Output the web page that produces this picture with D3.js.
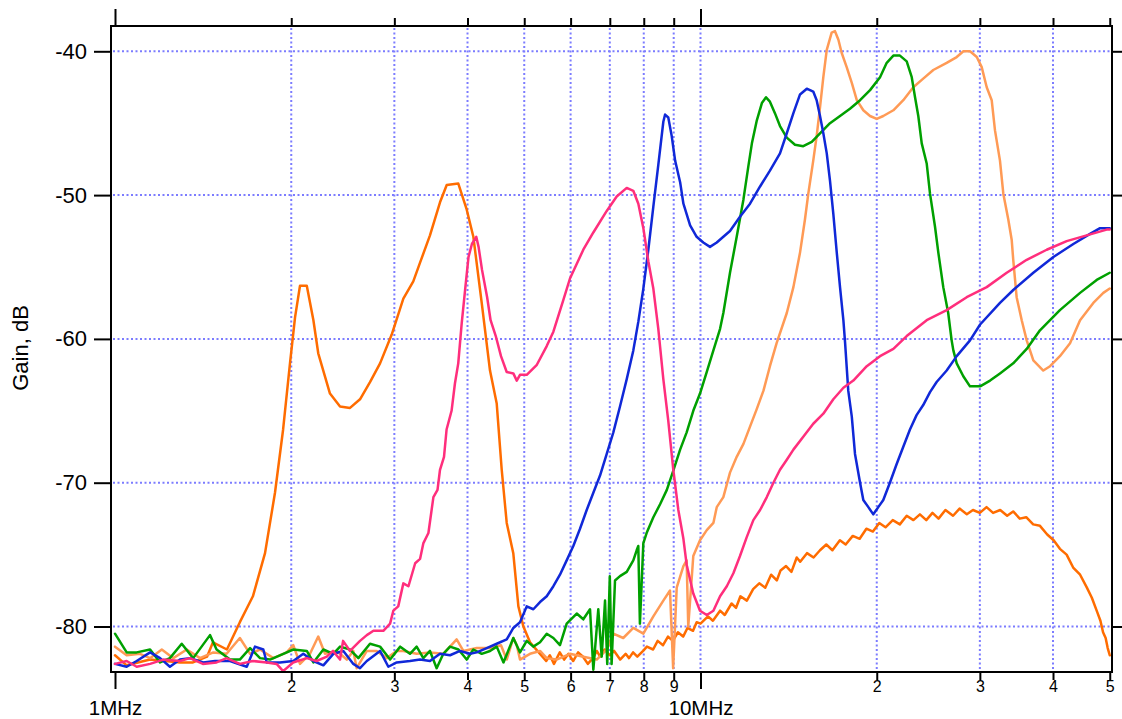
<!DOCTYPE html>
<html>
<head>
<meta charset="utf-8">
<script src="https://cdn.jsdelivr.net/npm/d3@7"></script>
<style>
  body { margin: 0; background: #fff; }
  svg { display: block; }
  text { font-family: "Liberation Sans", Arial, Helvetica, sans-serif; fill: #000; }
</style>
</head>
<body>
<svg id="chart" width="1122" height="719"></svg>
<script>
// Axis tick values (frequency in MHz, gain in dB)
const minorFreqs = [2, 3, 4, 5, 6, 7, 8, 9, 20, 30, 40, 50];
const minorLabels = ["2", "3", "4", "5", "6", "7", "8", "9", "2", "3", "4", "5"];
const majorFreqs = [1, 10];
const majorLabels = ["1MHz", "10MHz"];
const gridFreqs = [2, 3, 4, 5, 6, 7, 8, 9, 10, 20, 30, 40];
const gainTicks = [-40, -50, -60, -70, -80];

// Measured gain curves: [frequency MHz, gain dB]
const orangeTrace = [
  [1.00,-82.0],[1.047,-82.7],[1.148,-82.3],[1.291,-82.5],[1.359,-82.5],[1.436,-82.1],[1.47,-81.1],
  [1.553,-81.6],[1.591,-80.7],[1.634,-79.7],[1.72,-77.9],[1.804,-74.9],[1.876,-70.7],[1.937,-66.3],
  [1.99,-61.7],[2.03,-58.5],[2.07,-56.3],[2.126,-56.3],[2.182,-58.7],[2.224,-61.0],[2.329,-63.8],
  [2.423,-64.7],[2.52,-64.8],[2.621,-64.2],[2.726,-63.0],[2.836,-61.7],[2.969,-59.7],[3.108,-57.2],
  [3.232,-56.0],[3.319,-54.7],[3.451,-52.8],[3.59,-50.5],[3.686,-49.3],[3.858,-49.2],[3.987,-51.0],
  [4.093,-52.9],[4.23,-57.5],[4.37,-62.2],[4.487,-64.5],[4.576,-69.1],[4.667,-72.8],[4.789,-74.9],
  [4.886,-78.6],[4.983,-80.0],[5.115,-81.1],[5.32,-81.9],[5.45,-82.4],[5.53,-82.0],[5.62,-82.6],
  [5.75,-81.8],[5.85,-82.3],[5.95,-81.9],[6.06,-82.4],[6.18,-81.8],[6.3,-82.1],[6.42,-82.6],
  [6.55,-82.2],[6.65,-81.7],[6.74,-82.1],[6.86,-81.6],[7.0,-82.0],[7.12,-81.7],[7.29,-82.3],
  [7.45,-81.9],[7.55,-82.2],[7.67,-81.8],[7.8,-82.1],[7.98,-81.7],[8.1,-81.4],[8.3,-81.6],
  [8.45,-81.0],[8.63,-81.3],[8.8,-80.7],[8.97,-81.0],[9.15,-80.4],[9.34,-80.7],[9.5,-80.1],
  [9.71,-80.3],[9.85,-79.7],[10.0,-79.8],[10.3,-79.3],[10.5,-79.6],[10.8,-78.9],[11.0,-79.2],
  [11.3,-78.4],[11.5,-78.7],[11.7,-77.9],[12.0,-78.2],[12.3,-77.4],[12.6,-77.0],[12.9,-77.3],
  [13.2,-76.4],[13.5,-76.8],[13.7,-76.1],[14.0,-75.8],[14.3,-76.2],[14.6,-75.2],[14.8,-75.5],
  [15.2,-74.9],[15.6,-75.2],[16.0,-74.7],[16.4,-74.3],[16.8,-74.7],[17.3,-74.0],[17.7,-74.3],
  [18.2,-73.7],[18.7,-73.9],[19.2,-73.2],[19.7,-73.4],[20.2,-72.8],[20.7,-73.1],[21.3,-72.6],
  [21.9,-72.9],[22.5,-72.3],[23.1,-72.6],[23.7,-72.2],[24.3,-72.6],[24.9,-72.1],[25.5,-72.5],
  [26.2,-71.9],[27.0,-72.3],[27.7,-71.8],[28.5,-72.2],[29.2,-71.9],[30.0,-72.1],[30.8,-71.7],
  [31.6,-72.1],[32.5,-71.9],[33.4,-72.3],[34.2,-72.0],[35.1,-72.5],[36.0,-72.4],[37.0,-72.9],
  [38.0,-73.0],[39.1,-73.6],[40.1,-74.0],[41.1,-74.6],[42.2,-75.0],[43.3,-75.9],[44.5,-76.4],
  [45.7,-77.3],[46.6,-78.0],[47.6,-79.0],[48.2,-79.6],[48.7,-80.4],[49.2,-80.8],[49.6,-81.5],
  [50.0,-82.0]
];

const salmonTrace = [
  [1.00,-81.4],[1.047,-82.0],[1.103,-81.9],[1.148,-82.2],[1.202,-81.6],[1.258,-82.2],[1.326,-81.6],
  [1.397,-82.2],[1.472,-81.8],[1.551,-81.9],[1.634,-80.8],[1.701,-81.9],[1.769,-81.6],[1.864,-82.2],
  [1.964,-81.8],[2.016,-81.3],[2.07,-82.6],[2.153,-81.9],[2.224,-80.7],[2.284,-81.9],[2.391,-81.7],
  [2.488,-82.3],[2.553,-81.7],[2.587,-82.9],[2.692,-81.7],[2.799,-81.7],[2.911,-82.2],[3.028,-81.7],
  [3.108,-81.7],[3.275,-81.9],[3.451,-81.8],[3.637,-81.9],[3.833,-80.9],[3.935,-81.7],[4.148,-81.5],
  [4.37,-81.5],[4.563,-81.3],[4.667,-82.3],[4.79,-80.8],[4.855,-81.3],[4.917,-82.3],[5.115,-81.9],
  [5.32,-81.7],[5.462,-82.2],[5.68,-82.3],[5.985,-81.9],[6.307,-82.1],[6.65,-82.3],[6.916,-81.6],
  [7.098,-80.5],[7.38,-80.8],[7.678,-80.1],[7.987,-80.5],[8.307,-79.3],[8.64,-78.2],[8.87,-77.5],
  [8.98,-82.9],[9.107,-77.3],[9.35,-75.8],[9.47,-75.4],[9.53,-80.0],[9.72,-75.1],[9.98,-74.0],
  [10.25,-73.3],[10.52,-72.8],[10.66,-71.7],[10.94,-71.0],[11.23,-69.3],[11.53,-68.2],[11.84,-67.3],
  [12.15,-66.1],[12.47,-64.9],[12.81,-63.6],[13.14,-61.9],[13.49,-60.3],[14.04,-58.2],[14.41,-56.4],
  [14.79,-54.0],[15.08,-51.7],[15.28,-49.9],[15.58,-47.6],[15.79,-45.9],[16.0,-43.9],[16.21,-41.8],
  [16.43,-39.9],[16.75,-38.7],[16.97,-38.6],[17.2,-39.2],[17.42,-40.1],[17.77,-41.1],[18.13,-42.2],
  [18.49,-43.4],[18.97,-44.1],[19.48,-44.5],[20.0,-44.7],[20.52,-44.5],[21.35,-44.1],[22.2,-43.4],
  [23.09,-42.5],[24.01,-41.9],[24.98,-41.3],[26.33,-40.8],[27.39,-40.4],[28.12,-40.0],[28.86,-40.0],
  [29.64,-40.4],[30.22,-41.1],[30.82,-42.5],[31.43,-43.4],[31.84,-45.5],[32.47,-47.6],[32.9,-49.9],
  [33.55,-51.7],[34.0,-53.1],[34.21,-54.5],[34.67,-57.1],[35.37,-58.7],[36.07,-60.1],[37.02,-61.5],
  [38.5,-62.2],[39.54,-61.9],[41.1,-61.2],[42.77,-60.3],[44.49,-58.7],[46.87,-57.5],[48.75,-56.8],
  [50.0,-56.5]
];

const greenTrace = [
  [1.00,-80.5],[1.047,-81.8],[1.089,-81.8],[1.148,-81.6],[1.194,-82.5],[1.241,-82.2],[1.30,-81.2],
  [1.36,-82.2],[1.453,-80.6],[1.491,-81.6],[1.572,-82.3],[1.634,-82.3],[1.701,-81.5],[1.769,-82.2],
  [1.84,-82.3],[1.939,-81.9],[2.016,-81.6],[2.126,-81.7],[2.182,-82.5],[2.269,-81.6],[2.36,-81.9],
  [2.423,-81.4],[2.52,-81.6],[2.604,-82.2],[2.726,-81.2],[2.836,-81.4],[2.95,-82.3],[3.07,-81.4],
  [3.19,-81.9],[3.275,-81.4],[3.362,-82.2],[3.451,-81.7],[3.543,-82.9],[3.637,-81.9],[3.734,-81.4],
  [3.86,-81.6],[3.987,-82.3],[4.093,-81.6],[4.23,-81.9],[4.37,-81.7],[4.487,-81.4],[4.608,-82.5],
  [4.79,-80.8],[4.917,-81.8],[5.049,-81.0],[5.182,-81.4],[5.32,-81.1],[5.462,-80.5],[5.607,-80.8],
  [5.754,-81.3],[5.908,-79.8],[6.146,-79.1],[6.307,-79.5],[6.476,-78.8],[6.561,-83.0],[6.69,-78.8],
  [6.78,-82.1],[6.87,-78.2],[6.93,-82.6],[7.0,-76.5],[7.05,-82.6],[7.145,-76.8],[7.286,-76.5],
  [7.482,-76.2],[7.678,-75.4],[7.78,-74.7],[7.83,-74.4],[7.88,-79.8],[7.987,-74.2],[8.09,-73.5],
  [8.307,-72.4],[8.53,-71.5],[8.76,-70.5],[8.98,-69.2],[9.23,-67.7],[9.47,-66.5],[9.72,-65.0],
  [9.98,-63.8],[10.25,-62.3],[10.52,-60.8],[10.8,-59.3],[10.94,-58.2],[11.23,-55.4],[11.53,-52.9],
  [11.84,-50.3],[12.07,-48.0],[12.24,-46.4],[12.48,-44.8],[12.73,-43.6],[12.94,-43.2],[13.14,-43.5],
  [13.4,-44.3],[13.67,-45.2],[14.04,-46.0],[14.5,-46.5],[14.98,-46.6],[15.49,-46.3],[16.0,-45.7],
  [16.64,-45.0],[17.31,-44.5],[18.0,-44.0],[18.73,-43.4],[19.48,-42.7],[20.26,-41.8],[20.8,-40.8],
  [21.35,-40.3],[21.91,-40.3],[22.5,-40.7],[22.95,-41.8],[23.25,-43.2],[23.55,-44.5],[23.87,-46.4],
  [24.34,-47.8],[24.66,-49.9],[25.15,-52.2],[25.48,-54.0],[25.98,-56.4],[26.49,-58.2],[26.85,-60.1],
  [27.03,-60.8],[27.39,-61.7],[28.11,-62.6],[28.86,-63.3],[30.03,-63.3],[31.23,-62.9],[32.47,-62.4],
  [34.21,-61.7],[36.07,-60.7],[38.0,-59.4],[41.1,-58.0],[44.49,-56.8],[47.5,-55.9],[50.0,-55.4]
];

const blueTrace = [
  [1.00,-82.6],[1.047,-82.8],[1.089,-82.4],[1.148,-81.8],[1.194,-82.2],[1.241,-82.8],[1.291,-82.3],
  [1.343,-82.2],[1.415,-82.5],[1.482,-82.4],[1.572,-82.4],[1.679,-82.8],[1.734,-81.4],[1.792,-81.6],
  [1.816,-82.5],[1.913,-82.5],[2.016,-82.4],[2.097,-81.9],[2.182,-82.4],[2.269,-82.7],[2.36,-81.9],
  [2.455,-81.7],[2.553,-82.6],[2.621,-82.9],[2.692,-82.4],[2.836,-81.7],[2.93,-82.8],[3.028,-82.5],
  [3.19,-82.4],[3.319,-82.3],[3.451,-82.4],[3.59,-81.9],[3.734,-82.0],[3.884,-81.7],[4.04,-81.9],
  [4.148,-81.8],[4.314,-81.5],[4.487,-81.2],[4.667,-80.9],[4.79,-80.1],[4.917,-79.7],[5.049,-78.6],
  [5.182,-78.8],[5.32,-78.3],[5.462,-77.9],[5.607,-77.2],[5.754,-76.4],[5.908,-75.4],[6.064,-74.4],
  [6.226,-73.2],[6.392,-71.9],[6.561,-70.7],[6.736,-69.5],[6.916,-68.0],[7.098,-66.5],[7.286,-64.7],
  [7.482,-62.8],[7.678,-60.8],[7.831,-58.8],[7.987,-56.5],[8.145,-53.8],[8.307,-50.8],[8.471,-47.9],
  [8.64,-44.9],[8.70,-44.4],[8.81,-44.6],[8.93,-45.9],[9.05,-47.6],[9.23,-49.1],[9.35,-50.6],
  [9.60,-52.1],[9.85,-52.9],[10.11,-53.3],[10.38,-53.6],[10.66,-53.3],[10.94,-52.9],[11.23,-52.5],
  [11.68,-51.5],[12.15,-50.6],[12.64,-49.4],[13.14,-48.3],[13.67,-47.1],[14.04,-45.7],[14.41,-44.3],
  [14.79,-43.0],[15.19,-42.6],[15.58,-42.8],[15.79,-43.4],[16.0,-44.5],[16.21,-45.7],[16.43,-47.1],
  [16.64,-49.0],[16.86,-51.3],[17.09,-54.0],[17.31,-56.4],[17.54,-58.7],[17.66,-60.3],[17.88,-63.6],
  [18.13,-65.4],[18.36,-68.0],[18.73,-70.0],[18.97,-71.2],[19.35,-71.7],[19.73,-72.2],[20.12,-71.7],
  [20.52,-71.2],[21.06,-70.0],[21.63,-68.7],[22.2,-67.5],[22.79,-66.3],[23.39,-65.3],[24.01,-64.6],
  [24.66,-63.7],[25.31,-63.0],[26.33,-62.2],[27.39,-61.2],[28.86,-60.1],[30.03,-59.0],[32.47,-57.5],
  [34.21,-56.6],[37.02,-55.4],[40.06,-54.3],[43.33,-53.4],[46.27,-52.7],[48.13,-52.3],[50.0,-52.3]
];

const pinkTrace = [
  [1.00,-82.6],[1.047,-82.4],[1.089,-82.8],[1.148,-82.6],[1.209,-82.3],[1.291,-82.4],[1.343,-82.2],
  [1.413,-82.6],[1.491,-82.5],[1.551,-82.2],[1.634,-82.6],[1.72,-82.4],[1.816,-82.5],[1.888,-82.6],
  [1.937,-83.1],[2.015,-82.5],[2.126,-82.2],[2.21,-82.4],[2.30,-82.1],[2.357,-81.7],[2.423,-82.3],
  [2.452,-81.0],[2.52,-81.7],[2.621,-81.0],[2.692,-80.6],[2.763,-80.3],[2.873,-80.3],[2.95,-79.8],
  [2.988,-78.9],[3.046,-78.6],[3.108,-77.0],[3.171,-77.2],[3.256,-75.6],[3.319,-75.3],[3.363,-74.2],
  [3.43,-73.5],[3.498,-71.0],[3.555,-70.5],[3.59,-69.1],[3.647,-68.2],[3.684,-66.3],[3.757,-65.0],
  [3.807,-63.1],[3.857,-61.7],[3.91,-58.9],[3.962,-56.6],[4.016,-54.3],[4.07,-53.4],[4.14,-52.9],
  [4.178,-53.6],[4.235,-55.2],[4.321,-57.1],[4.38,-58.7],[4.47,-59.8],[4.563,-61.2],[4.667,-62.3],
  [4.79,-62.4],[4.855,-62.9],[4.917,-62.5],[5.049,-62.5],[5.254,-61.8],[5.462,-60.5],[5.607,-59.5],
  [5.83,-57.3],[5.985,-55.8],[6.307,-53.8],[6.561,-52.6],[6.916,-51.1],[7.192,-50.1],[7.482,-49.5],
  [7.678,-49.7],[7.831,-50.6],[7.987,-52.3],[8.145,-54.6],[8.307,-56.5],[8.471,-59.3],[8.64,-62.8],
  [8.81,-65.7],[8.98,-69.0],[9.165,-71.9],[9.35,-73.9],[9.47,-75.7],[9.72,-77.7],[9.98,-78.9],
  [10.25,-79.2],[10.52,-78.9],[10.8,-77.9],[11.09,-77.2],[11.38,-76.3],[11.68,-75.1],[11.99,-73.8],
  [12.31,-72.6],[12.64,-71.9],[12.98,-71.0],[13.32,-70.0],[13.67,-69.1],[14.04,-68.4],[14.41,-67.7],
  [14.98,-66.8],[15.58,-65.9],[16.21,-65.2],[16.86,-64.2],[17.54,-63.4],[18.24,-62.9],[19.23,-61.9],
  [20.26,-61.2],[21.35,-60.7],[22.5,-59.8],[24.34,-58.7],[26.33,-58.0],[28.49,-57.1],[30.82,-56.4],
  [33.34,-55.4],[36.07,-54.5],[39.02,-53.8],[42.21,-53.2],[45.66,-52.8],[49.4,-52.4],[50.0,-52.4]
];

const traces = [
  { name: "dark orange", color: "#ff6c00", data: orangeTrace },
  { name: "light orange", color: "#ff9a55", data: salmonTrace },
  { name: "green", color: "#00a000", data: greenTrace },
  { name: "blue", color: "#1028d8", data: blueTrace },
  { name: "pink", color: "#ff2e7c", data: pinkTrace }
];

// Frame of the plot area
const box = { left: 111, right: 1112, top: 26, bottom: 672 };
const decade = 585.5;

const x = d3.scaleLog().domain([1, 50]).range([115, 115 + decade * Math.log10(50)]);
const y = d3.scaleLinear().domain([-80, -40]).range([626.5, 51.3]);

const svg = d3.select("#chart");

svg.append("defs").append("clipPath").attr("id", "plotClip")
  .append("rect")
  .attr("x", box.left).attr("y", box.top)
  .attr("width", box.right - box.left).attr("height", box.bottom - box.top);

// Dotted grid
const grid = svg.append("g").attr("class", "grid")
  .attr("stroke", "#7c7cff").attr("stroke-width", 2).attr("stroke-dasharray", "2,2.5");
grid.selectAll("line.v").data(gridFreqs).join("line").attr("class", "v")
  .attr("x1", d => x(d)).attr("x2", d => x(d))
  .attr("y1", box.top + 2).attr("y2", box.bottom);
grid.selectAll("line.h").data(gainTicks).join("line").attr("class", "h")
  .attr("y1", d => y(d)).attr("y2", d => y(d))
  .attr("x1", box.left + 2).attr("x2", box.right);

// Curves
const line = d3.line().x(d => x(d[0])).y(d => y(d[1]));
svg.append("g").attr("clip-path", "url(#plotClip)")
  .selectAll("path").data(traces).join("path")
  .attr("d", d => line(d.data))
  .attr("fill", "none")
  .attr("stroke", d => d.color)
  .attr("stroke-width", 2.5)
  .attr("stroke-linejoin", "round")
  .attr("stroke-linecap", "round");

// Axes
function styleAxis(g) {
  g.select(".domain").remove();
  g.selectAll(".tick line").attr("stroke", "#000").attr("stroke-width", 2);
}

svg.append("g").attr("transform", `translate(${box.left},0)`)
  .call(d3.axisLeft(y).tickValues(gainTicks).tickSize(17).tickPadding(7).tickFormat(d => String(d)))
  .call(styleAxis)
  .call(g => g.selectAll("text").attr("font-size", 22).attr("font-family", "Liberation Sans, Arial, sans-serif"));

svg.append("g").attr("transform", `translate(${box.right},0)`)
  .call(d3.axisRight(y).tickValues(gainTicks).tickSize(17).tickFormat(""))
  .call(styleAxis);

svg.append("g").attr("transform", `translate(0,${box.bottom})`)
  .call(d3.axisBottom(x).tickValues(minorFreqs).tickSize(8).tickPadding(1)
    .tickFormat((d, i) => minorLabels[i]))
  .call(styleAxis)
  .call(g => g.selectAll("text").attr("font-size", 16).attr("font-family", "Liberation Sans, Arial, sans-serif"));

svg.append("g").attr("transform", `translate(0,${box.bottom})`)
  .call(d3.axisBottom(x).tickValues(majorFreqs).tickSize(17).tickPadding(11)
    .tickFormat((d, i) => majorLabels[i]))
  .call(styleAxis)
  .call(g => g.selectAll("text").attr("font-size", 20.5).attr("font-family", "Liberation Sans, Arial, sans-serif"));

svg.append("g").attr("transform", `translate(0,${box.top})`)
  .call(d3.axisTop(x).tickValues(minorFreqs).tickSize(8).tickFormat(""))
  .call(styleAxis);

svg.append("g").attr("transform", `translate(0,${box.top})`)
  .call(d3.axisTop(x).tickValues(majorFreqs).tickSize(17).tickFormat(""))
  .call(styleAxis);

// Frame
svg.append("rect")
  .attr("x", box.left).attr("y", box.top)
  .attr("width", box.right - box.left).attr("height", box.bottom - box.top)
  .attr("fill", "none").attr("stroke", "#000").attr("stroke-width", 2);

// Axis title
svg.append("text")
  .attr("transform", "translate(28,348) rotate(-90)")
  .attr("text-anchor", "middle")
  .attr("font-size", 22)
  .text("Gain, dB");
</script>
</body>
</html>
